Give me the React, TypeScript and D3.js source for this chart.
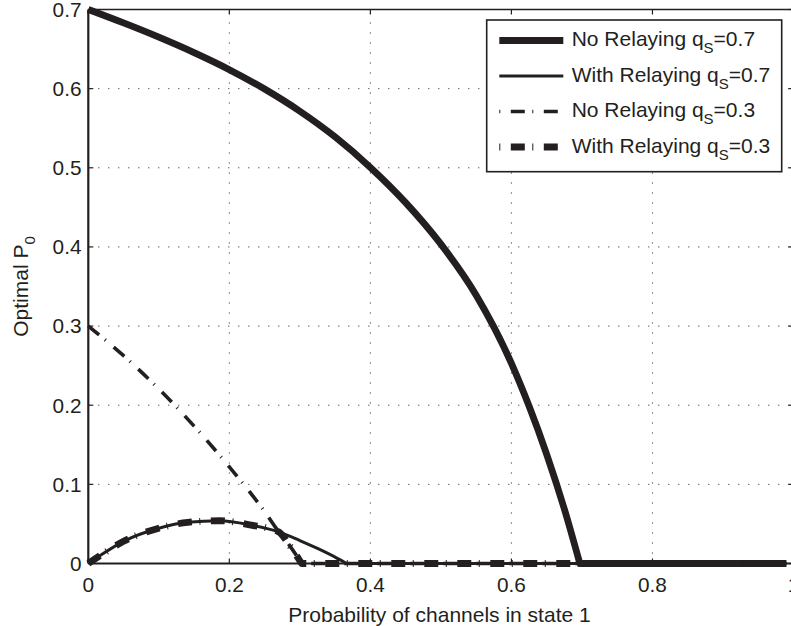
import React from 'react';
import * as d3 from 'd3';

// ---- data ----
const xTicks = [0, 0.2, 0.4, 0.6, 0.8, 1];
const xTickLabels = ['0', '0.2', '0.4', '0.6', '0.8', '1'];
const yTicks = [0, 0.1, 0.2, 0.3, 0.4, 0.5, 0.6, 0.7];
const yTickLabels = ['0', '0.1', '0.2', '0.3', '0.4', '0.5', '0.6', '0.7'];

const noRelay07X = [0, 0.05, 0.1, 0.15, 0.2, 0.25, 0.3, 0.35, 0.4, 0.45, 0.5, 0.55, 0.6, 0.625, 0.65, 0.675, 0.697, 0.8, 0.9, 0.99];
const noRelay07Y = [0.7, 0.683, 0.665, 0.6455, 0.624, 0.5995, 0.5715, 0.539, 0.5005, 0.456, 0.4035, 0.339, 0.253, 0.199, 0.138, 0.069, 0, 0, 0, 0];

const withRelay07X = [0, 0.02, 0.05, 0.1, 0.141, 0.186, 0.231, 0.27, 0.3, 0.325, 0.35, 0.366, 0.5, 0.7, 0.99];
const withRelay07Y = [0, 0.012, 0.028, 0.0445, 0.052, 0.054, 0.0485, 0.04, 0.029, 0.019, 0.008, 0, 0, 0, 0];

const noRelay03X = [0, 0.05, 0.1, 0.15, 0.2, 0.25, 0.27, 0.285, 0.3025, 0.5, 0.99];
const noRelay03Y = [0.3, 0.2626, 0.2205, 0.1736, 0.122, 0.0656, 0.04, 0.0233, 0, 0, 0];

const withRelay03X = [0, 0.02, 0.05, 0.1, 0.141, 0.186, 0.231, 0.27, 0.285, 0.3025, 0.5, 0.99];
const withRelay03Y = [0, 0.012, 0.028, 0.0445, 0.052, 0.054, 0.0485, 0.04, 0.0233, 0, 0, 0];

const legendNames = ['No Relaying q', 'With Relaying q', 'No Relaying q', 'With Relaying q'];
const legendSub = ['S', 'S', 'S', 'S'];
const legendValues = ['=0.7', '=0.7', '=0.3', '=0.3'];

const INK = '#231f20';
const FONT = '"Liberation Sans", Arial, Helvetica, sans-serif';

export default function App() {
  const left = 88.3, right = 793.5, top = 9.5, bottom = 563.5;
  const x = d3.scaleLinear().domain([0, 1]).range([left, right]);
  const y = d3.scaleLinear().domain([0, 0.7]).range([bottom, top]);

  // smooth curve for the rising/falling part, straight line along zero afterwards
  const mk = (xs: number[], ys: number[]) => {
    let k = ys.length - 1;
    while (k > 0 && ys[k - 1] === 0) k--;
    const idx = d3.range(0, k + 1);
    const curve = d3.line<number>().x((i) => x(xs[i])).y((i) => y(ys[i])).curve(d3.curveMonotoneX)(idx) || '';
    const tail = d3.range(k + 1, xs.length).map((i) => `L${x(xs[i])},${y(ys[i])}`).join('');
    return curve + tail;
  };

  const dashDot = '14 7.5 1 10.5';
  const series = [
    { d: mk(noRelay07X, noRelay07Y), w: 6.8, dash: undefined as string | undefined },
    { d: mk(withRelay07X, withRelay07Y), w: 3, dash: undefined },
    { d: mk(noRelay03X, noRelay03Y), w: 3.6, dash: dashDot },
    { d: mk(withRelay03X, withRelay03Y), w: 6.8, dash: dashDot },
  ];

  const tickLen = 5;
  const lg = { x0: 486.7, y0: 20, x1: 781.7, y1: 171.7, lineX0: 499.3, lineX1: 563.3, textX: 571.7 };
  const rowBase = [46, 81.5, 117, 152.5];

  return (
    <svg width={791} height={626} style={{ position: 'absolute', left: 0, top: 0, background: '#fff' }}
      fontFamily={FONT}>
      <rect x={0} y={0} width={791} height={626} fill="#fff" />
      {/* grid */}
      {xTicks.filter((t) => t > 0 && t < 1).map((t) => (
        <line key={'gx' + t} x1={x(t)} x2={x(t)} y1={bottom} y2={top} stroke={INK} strokeWidth={1}
          strokeDasharray="1 9" />
      ))}
      {yTicks.filter((t) => t > 0 && t < 0.7).map((t) => (
        <line key={'gy' + t} x1={left} x2={right} y1={y(t)} y2={y(t)} stroke={INK} strokeWidth={1}
          strokeDasharray="1 9" />
      ))}
      {/* axes box */}
      <line x1={left} x2={right} y1={top} y2={top} stroke={INK} strokeWidth={1.5} />
      <line x1={left} x2={right} y1={bottom} y2={bottom} stroke={INK} strokeWidth={1.8} />
      <line x1={left} x2={left} y1={top} y2={bottom} stroke={INK} strokeWidth={2.2} />
      <line x1={right} x2={right} y1={top} y2={bottom} stroke={INK} strokeWidth={1.5} />
      {/* ticks */}
      {xTicks.map((t) => (
        <g key={'tx' + t}>
          <line x1={x(t)} x2={x(t)} y1={bottom} y2={bottom - tickLen} stroke={INK} strokeWidth={1.2} />
          <line x1={x(t)} x2={x(t)} y1={top} y2={top + tickLen} stroke={INK} strokeWidth={1.2} />
        </g>
      ))}
      {yTicks.map((t) => (
        <g key={'ty' + t}>
          <line x1={left} x2={left + tickLen} y1={y(t)} y2={y(t)} stroke={INK} strokeWidth={1.2} />
          <line x1={right} x2={right - tickLen} y1={y(t)} y2={y(t)} stroke={INK} strokeWidth={1.2} />
        </g>
      ))}
      {/* data */}
      {series.map((s, i) => (
        <path key={'s' + i} d={s.d} fill="none" stroke={INK} strokeWidth={s.w}
          strokeDasharray={s.dash} strokeLinecap="butt" strokeLinejoin="round" />
      ))}
      {/* tick labels */}
      {xTicks.map((t, i) => (
        <text key={'lx' + t} x={x(t)} y={592} textAnchor="middle" fontSize={20.8} fill={INK}>
          {xTickLabels[i]}
        </text>
      ))}
      {yTicks.map((t, i) => (
        <text key={'ly' + t} x={81.5} y={y(t) + 7.4} textAnchor="end" fontSize={20.8} fill={INK}>
          {yTickLabels[i]}
        </text>
      ))}
      {/* axis labels */}
      <text x={439.5} y={621.5} textAnchor="middle" fontSize={21} fill={INK}>
        Probability of channels in state 1
      </text>
      <text transform={`translate(28,${(top + bottom) / 2}) rotate(-90)`} textAnchor="middle" fontSize={21}
        fill={INK}>
        Optimal P<tspan fontSize={15} dy={7}>0</tspan>
      </text>
      {/* legend */}
      <rect x={lg.x0} y={lg.y0} width={lg.x1 - lg.x0} height={lg.y1 - lg.y0} fill="#fff" stroke={INK}
        strokeWidth={1.6} />
      {legendNames.map((name, i) => (
        <g key={'lg' + i}>
          <line x1={lg.lineX0} x2={lg.lineX1} y1={rowBase[i] - 5.5} y2={rowBase[i] - 5.5} stroke={INK}
            strokeWidth={series[i].w} strokeDasharray={series[i].dash}
            strokeDashoffset={series[i].dash ? 21.5 : undefined} />
          <text x={lg.textX} y={rowBase[i]} fontSize={21} fill={INK}>
            {name}
            <tspan fontSize={15} dy={7}>{legendSub[i]}</tspan>
            <tspan dy={-7}>{legendValues[i]}</tspan>
          </text>
        </g>
      ))}
    </svg>
  );
}
